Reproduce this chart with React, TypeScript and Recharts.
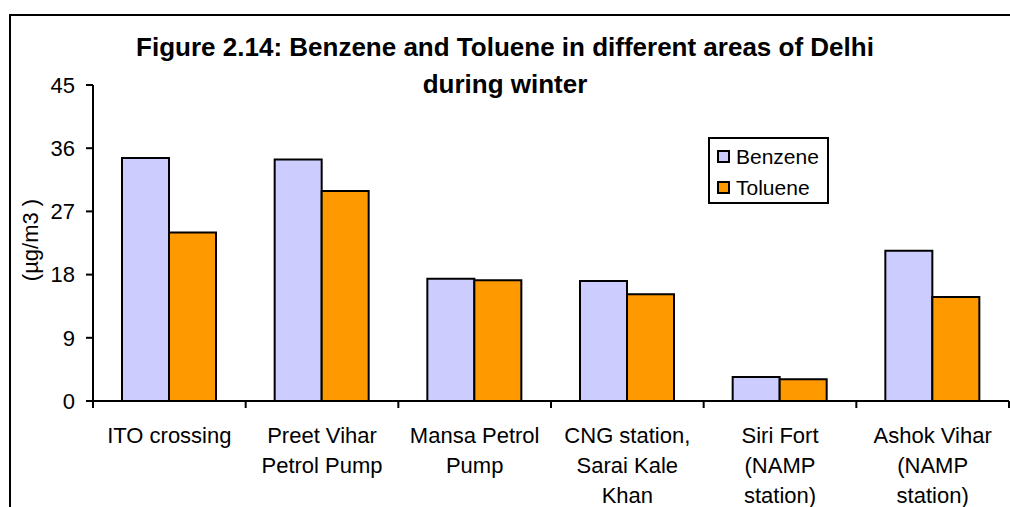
import { BarChart, Bar, XAxis, YAxis } from "recharts";

const categories = [
  "ITO crossing",
  "Preet Vihar\nPetrol Pump",
  "Mansa Petrol\nPump",
  "CNG station,\nSarai Kale\nKhan",
  "Siri Fort\n(NAMP\nstation)",
  "Ashok Vihar\n(NAMP\nstation)",
];
const benzene = [34.6, 34.4, 17.4, 17.1, 3.4, 21.4];
const toluene = [24.0, 29.9, 17.2, 15.2, 3.1, 14.8];
const yTicks = [0, 9, 18, 27, 36, 45];
const seriesNames = ["Benzene", "Toluene"];

const data = categories.map((name, i) => ({ name, benzene: benzene[i], toluene: toluene[i] }));

const FONT = "'Liberation Sans', Arial, sans-serif";
const BENZENE = "#CCCCFF";
const TOLUENE = "#FF9900";

// Excel-style category axis: labels centred, tick marks on the band edges
function CategoryTick(props: any) {
  const { x, y, payload, index, visibleTicksCount, width } = props;
  const half = payload && payload.offset ? payload.offset : width / visibleTicksCount / 2;
  const lines = String(payload.value).split("\n");
  const isLast = index === visibleTicksCount - 1;
  return (
    <g>
      <line x1={x - half} x2={x - half} y1={y} y2={y + 7} stroke="#000" strokeWidth={2} />
      {isLast && <line x1={x + half} x2={x + half} y1={y} y2={y + 7} stroke="#000" strokeWidth={2} />}
      <text x={x} y={y} textAnchor="middle" fontFamily={FONT} fontSize={22} fill="#000">
        {lines.map((line, i) => (
          <tspan key={i} x={x} dy={i === 0 ? 42 : 30}>
            {line}
          </tspan>
        ))}
      </text>
    </g>
  );
}

function LegendBox() {
  const colors = [BENZENE, TOLUENE];
  return (
    <div
      style={{
        position: "absolute",
        left: 708,
        top: 137,
        border: "2px solid #000",
        boxSizing: "border-box",
        width: 121,
        height: 67,
        background: "#fff",
        padding: "2px 0 0 7px",
        fontFamily: FONT,
        fontSize: 21,
      }}
    >
      {seriesNames.map((label, i) => (
        <div key={label} style={{ display: "flex", alignItems: "center", height: 31 }}>
          <span
            style={{
              display: "inline-block",
              width: 13,
              height: 13,
              boxSizing: "border-box",
              border: "2px solid #000",
              background: colors[i],
              marginRight: 6,
            }}
          />
          <span>{label}</span>
        </div>
      ))}
    </div>
  );
}

export default function App() {
  return (
    <div style={{ position: "absolute", left: 0, top: 0, width: 1010, height: 507, overflow: "hidden", background: "#fff" }}>
      <div
        style={{
          position: "absolute",
          left: 9,
          top: 14,
          width: 1001,
          height: 493,
          boxSizing: "border-box",
          borderTop: "2px solid #000",
          borderLeft: "2px solid #000",
        }}
      />
      <BarChart
        width={1010}
        height={507}
        data={data}
        margin={{ top: 85, right: 1, bottom: 6, left: 0 }}
        barCategoryGap="19%"
        barGap={0}
        style={{ position: "absolute", left: 0, top: 0 }}
      >
        <XAxis
          dataKey="name"
          interval={0}
          tick={<CategoryTick />}
          tickLine={false}
          tickSize={0}
          tickMargin={0}
          axisLine={{ stroke: "#000", strokeWidth: 2 }}
          height={100}
        />
        <YAxis
          domain={[0, 45]}
          ticks={yTicks}
          width={93}
          axisLine={{ stroke: "#000", strokeWidth: 2 }}
          tickLine={{ stroke: "#000", strokeWidth: 2 }}
          tickSize={7}
          tickMargin={11}
          tick={{ fill: "#000", fontSize: 22, fontFamily: FONT }}
          label={{
            content: () => (
              <text
                x={30}
                y={240}
                transform="rotate(-90 30 240)"
                textAnchor="middle"
                dominantBaseline="central"
                fontFamily={FONT}
                fontSize={22}
                fill="#000"
              >
                (µg/m3 )
              </text>
            ),
          }}
        />
        <Bar dataKey="benzene" name={seriesNames[0]} fill={BENZENE} stroke="#000" strokeWidth={2} isAnimationActive={false} />
        <Bar dataKey="toluene" name={seriesNames[1]} fill={TOLUENE} stroke="#000" strokeWidth={2} isAnimationActive={false} />
      </BarChart>
      <LegendBox />
      <div
        style={{
          position: "absolute",
          left: 0,
          width: 1010,
          top: 29,
          textAlign: "center",
          fontFamily: FONT,
          fontWeight: "bold",
          fontSize: 26,
          lineHeight: "37px",
          color: "#000",
        }}
      >
        Figure 2.14: Benzene and Toluene in different areas of Delhi
        <br />
        during winter
      </div>
    </div>
  );
}
